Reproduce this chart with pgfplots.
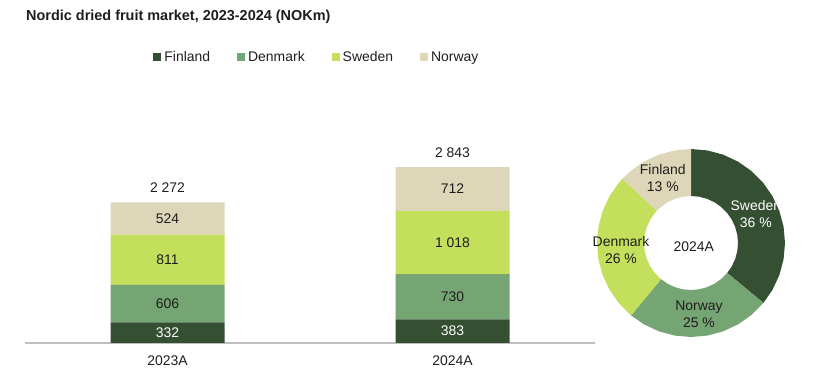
\documentclass[border=0pt]{standalone}
\usepackage{pgfplots}
\pgfplotsset{compat=1.18}
\usepackage{fontspec}
\setmainfont{Liberation Sans}
\definecolor{cfin}{HTML}{354F32}
\definecolor{cden}{HTML}{76A574}
\definecolor{cswe}{HTML}{C3DF5B}
\definecolor{cnor}{HTML}{DDD6B8}
\definecolor{ctxt}{HTML}{1E1E1E}
\definecolor{caxis}{HTML}{BFBFBF}
\newcommand{\lblfont}{\fontsize{14}{17}\selectfont}
\tikzset{vl/.style={font=\lblfont, text=ctxt, inner sep=0pt, anchor=center, align=center}}
\pgfplotsset{barframe/.style={
  at={(25bp,40bp)}, anchor=south west,
  scale only axis, width=570bp, height=185.7bp,
  xmin=-0.5, xmax=1.5, ymin=0, ymax=3000,
  enlargelimits=false, clip=false}}
\begin{document}
\begin{tikzpicture}
\path[use as bounding box] (0,0) rectangle (820bp,383bp);
\node[anchor=west, inner sep=0, text=ctxt, font=\fontsize{14.5}{17}\selectfont\bfseries] at (26bp,366bp) {Nordic dried fruit market, 2023-2024 (NOKm)};
\begin{axis}[
  barframe,
  ybar stacked, bar width=0.4,
  axis x line*=bottom, axis y line=none,
  x axis line style={draw=caxis, line width=1.5bp},
  xtick={0,1}, xticklabels={2023A,2024A},
  major tick length=0, ytick=\empty,
  xticklabel style={font=\lblfont, text=ctxt, inner sep=0pt, yshift=-13bp},
  legend columns=4,
  legend image code/.code={\fill[#1] (0bp,-4bp) rectangle (8bp,4bp);},
  legend style={at={(0.513,1.540)}, anchor=center, draw=none, fill=none, font=\lblfont, text=ctxt,
    nodes={inner xsep=3bp, inner ysep=1bp},
    /tikz/every even column/.append style={column sep=24bp}},
]
\addplot[fill=cfin, draw=none] coordinates {(0,332) (1,383)};
\addplot[fill=cden, draw=none] coordinates {(0,606) (1,730)};
\addplot[fill=cswe, draw=none] coordinates {(0,811) (1,1018)};
\addplot[fill=cnor, draw=none] coordinates {(0,524) (1,712)};
\legend{Finland,Denmark,Sweden,Norway}
\end{axis}
\begin{axis}[barframe, hide axis]
\node[vl, text=white] at (axis cs:0,166) {332};
\node[vl] at (axis cs:0,635) {606};
\node[vl] at (axis cs:0,1343.5) {811};
\node[vl] at (axis cs:0,2011) {524};
\node[vl, text=white] at (axis cs:1,191.5) {383};
\node[vl] at (axis cs:1,748) {730};
\node[vl] at (axis cs:1,1622) {1 018};
\node[vl] at (axis cs:1,2487) {712};
\node[vl, anchor=base, yshift=10bp] at (axis cs:0,2272) {2 272};
\node[vl, anchor=base, yshift=10bp] at (axis cs:1,2843) {2 843};
\end{axis}
\begin{axis}[
  at={(691bp,140bp)}, anchor=center,
  scale only axis, width=188bp, height=188bp,
  xmin=-1, xmax=1, ymin=-1, ymax=1,
  hide axis, clip=false,
]
\addplot[fill=cfin, draw=none, data cs=polar] coordinates {
 (90,1) (80,1) (70,1) (60,1) (50,1) (40,1) (30,1) (20,1) (10,1) (0,1) (-10,1) (-20,1) (-30,1) (-39.6,1)
 (-39.6,0.5) (-30,0.5) (-20,0.5) (-10,0.5) (0,0.5) (10,0.5) (20,0.5) (30,0.5) (40,0.5) (50,0.5) (60,0.5) (70,0.5) (80,0.5) (90,0.5)} -- cycle;
\addplot[fill=cden, draw=none, data cs=polar] coordinates {
 (-39.6,1) (-50,1) (-60,1) (-70,1) (-80,1) (-90,1) (-100,1) (-110,1) (-120,1) (-129.6,1)
 (-129.6,0.5) (-120,0.5) (-110,0.5) (-100,0.5) (-90,0.5) (-80,0.5) (-70,0.5) (-60,0.5) (-50,0.5) (-39.6,0.5)} -- cycle;
\addplot[fill=cswe, draw=none, data cs=polar] coordinates {
 (-129.6,1) (-140,1) (-150,1) (-160,1) (-170,1) (-180,1) (-190,1) (-200,1) (-210,1) (-220,1) (-223.2,1)
 (-223.2,0.5) (-220,0.5) (-210,0.5) (-200,0.5) (-190,0.5) (-180,0.5) (-170,0.5) (-160,0.5) (-150,0.5) (-140,0.5) (-129.6,0.5)} -- cycle;
\addplot[fill=cnor, draw=none, data cs=polar] coordinates {
 (-223.2,1) (-230,1) (-240,1) (-250,1) (-260,1) (-270,1)
 (-270,0.5) (-260,0.5) (-250,0.5) (-240,0.5) (-230,0.5) (-223.2,0.5)} -- cycle;
\node[vl] at (axis cs:-0.30,0.69) {Finland\\13 \%};
\node[vl, text=white] at (axis cs:0.69,0.31) {Sweden\\36 \%};
\node[vl] at (axis cs:-0.745,-0.07) {Denmark\\26 \%};
\node[vl] at (axis cs:0.085,-0.76) {Norway\\25 \%};
\node[vl] at (axis cs:0.03,-0.04) {2024A};
\end{axis}
\end{tikzpicture}
\end{document}
